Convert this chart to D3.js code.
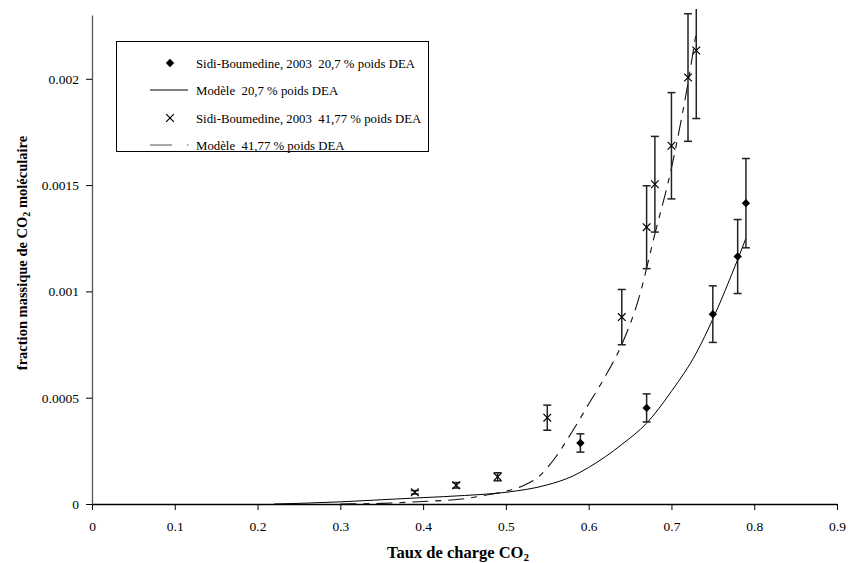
<!DOCTYPE html>
<html><head><meta charset="utf-8">
<script src="https://cdn.jsdelivr.net/npm/d3@7"></script>
<style>body{margin:0;background:#fff}svg{display:block}svg text{font-family:"Liberation Serif","Times New Roman",serif;white-space:pre}</style>
</head><body><div id="chart"></div>
<script>
// ---- data ----
const xTicks = [0,0.1,0.2,0.3,0.4,0.5,0.6,0.7,0.8,0.9];
const xTickLabels = ["0","0.1","0.2","0.3","0.4","0.5","0.6","0.7","0.8","0.9"];
const yTicks = [0,0.0005,0.001,0.0015,0.002];
const yTickLabels = ["0","0.0005","0.001","0.0015","0.002"];

const exp1X = [0.59,0.67,0.75,0.78,0.79];
const exp1Y = [0.000287,0.000452,0.000893,0.001164,0.001415];
const exp1Err = [0.000043,0.000066,0.000133,0.000174,0.00021];

const exp2X = [0.39,0.44,0.49,0.55,0.64,0.67,0.68,0.70,0.72,0.73];
const exp2Y = [0.000055,0.000088,0.000128,0.000406,0.000879,0.001302,0.001504,0.001685,0.002006,0.002133];
const exp2Err = [0.000008,0.000013,0.000019,0.000059,0.00013,0.000195,0.000225,0.00025,0.0003,0.00032];

const mod1X = [0.22,0.25,0.30,0.35,0.40,0.45,0.50,0.55,0.58,0.60,0.62,0.64,0.67,0.70,0.73,0.75,0.78,0.79];
const mod1Y = [0,0.000003,0.00001,0.00002,0.00003,0.00004,0.000055,0.00009,0.00013,0.000172,0.000222,0.00028,0.00038,0.00053,0.00071,0.00087,0.00115,0.00125];

const mod2X = [0.30,0.35,0.40,0.45,0.48,0.50,0.52,0.54,0.56,0.58,0.60,0.62,0.64,0.66,0.68,0.70,0.71,0.72,0.73];
const mod2Y = [0,0.000003,0.000012,0.000025,0.000045,0.00006,0.000085,0.00013,0.00022,0.00034,0.00047,0.0006,0.00075,0.00096,0.00127,0.00158,0.00177,0.00198,0.00222];

const legendLabels = ["Sidi-Boumedine, 2003  20,7 % poids DEA","Modèle  20,7 % poids DEA","Sidi-Boumedine, 2003  41,77 % poids DEA","Modèle  41,77 % poids DEA"];

// ---- chart ----
const W=848,H=563;
const FONT='"Liberation Serif","Times New Roman",serif';
const svg=d3.select("#chart").append("svg").attr("width",W).attr("height",H).attr("font-family",FONT);
const x=d3.scaleLinear().domain([0,0.9]).range([92,837]);
const y=d3.scaleLinear().domain([0,0.0023]).range([504,15]);

svg.append("defs").append("clipPath").attr("id","clip").append("rect")
  .attr("x",92).attr("y",9).attr("width",750).attr("height",500);

// axes
const xAxis=d3.axisBottom(x).tickValues(xTicks).tickFormat((d,i)=>xTickLabels[i]).tickSize(6).tickSizeOuter(0);
const gx=svg.append("g").attr("transform","translate(0,504)").call(xAxis).attr("font-family",FONT);
gx.select(".domain").attr("stroke","#000").attr("stroke-width",1.3);
gx.selectAll(".tick line").attr("stroke","#000");
gx.selectAll("text").attr("font-size",13.5).attr("fill","#000").attr("dy","1.3em");

const yAxis=d3.axisLeft(y).tickValues(yTicks).tickFormat((d,i)=>yTickLabels[i]).tickSize(6).tickSizeOuter(0);
const gy=svg.append("g").attr("transform","translate(92,0)").call(yAxis).attr("font-family",FONT);
gy.select(".domain").attr("stroke","#555").attr("stroke-width",1.3);
gy.selectAll(".tick line").attr("stroke","#000");
gy.selectAll("text").attr("font-size",13.5).attr("fill","#000").attr("dx","-0.3em");

// axis titles
const xt=svg.append("text").attr("x",458).attr("y",558).attr("text-anchor","middle")
  .attr("font-size",16.5).attr("font-weight","bold");
xt.append("tspan").text("Taux de charge CO");
xt.append("tspan").text("2").attr("font-size",11).attr("dy",3);

const yt=svg.append("text").attr("transform","translate(27,253) rotate(-90)").attr("text-anchor","middle")
  .attr("font-size",14.5).attr("font-weight","bold");
yt.append("tspan").text("fraction massique de CO");
yt.append("tspan").text("2").attr("font-size",10).attr("dy",3);
yt.append("tspan").text(" moléculaire").attr("dy",-3);

const plot=svg.append("g").attr("clip-path","url(#clip)");

// model curves
const line=d3.line().x(d=>x(d[0])).y(d=>y(d[1])).curve(d3.curveMonotoneX);
plot.append("path").datum(mod1X.map((v,i)=>[v,mod1Y[i]])).attr("d",line)
  .attr("fill","none").attr("stroke","#000").attr("stroke-width",1);
plot.append("path").datum(mod2X.map((v,i)=>[v,mod2Y[i]])).attr("d",line)
  .attr("fill","none").attr("stroke","#111").attr("stroke-width",1.1).attr("stroke-dasharray","16,7,6,7");

// error bars
function errBars(xs,ys,es){
  const g=plot.append("g").attr("stroke","#222").attr("stroke-width",1.5);
  xs.forEach((v,i)=>{
    const cx=x(v),t=y(ys[i]+es[i]),b=y(ys[i]-es[i]);
    g.append("line").attr("x1",cx).attr("x2",cx).attr("y1",t).attr("y2",b);
    g.append("line").attr("x1",cx-4).attr("x2",cx+4).attr("y1",t).attr("y2",t);
    g.append("line").attr("x1",cx-4).attr("x2",cx+4).attr("y1",b).attr("y2",b);
  });
}
errBars(exp1X,exp1Y,exp1Err);
errBars(exp2X,exp2Y,exp2Err);

// markers
const diamond=d3.symbol().type(d3.symbolDiamond2).size(45);
plot.selectAll(".dia").data(exp1X.map((v,i)=>[v,exp1Y[i]])).enter().append("path")
  .attr("d",diamond).attr("transform",d=>`translate(${x(d[0])},${y(d[1])})`).attr("fill","#000");
const cross=d3.symbol().type(d3.symbolX).size(40);
plot.selectAll(".crs").data(exp2X.map((v,i)=>[v,exp2Y[i]])).enter().append("path")
  .attr("d",cross).attr("transform",d=>`translate(${x(d[0])},${y(d[1])})`)
  .attr("fill","none").attr("stroke","#000").attr("stroke-width",1.2);

// legend
const lg=svg.append("g");
lg.append("rect").attr("x",116.5).attr("y",41.5).attr("width",312).attr("height",110)
  .attr("fill","#fff").attr("stroke","#000").attr("stroke-width",1);
const rowY=[63,90,118,145];
legendLabels.forEach((t,i)=>{
  lg.append("text").attr("x",196).attr("y",rowY[i]+4.5).attr("font-size",12.8).attr("xml:space","preserve").text(t);
});
lg.append("path").attr("d",diamond).attr("transform",`translate(170,${rowY[0]})`).attr("fill","#000");
lg.append("line").attr("x1",150).attr("x2",188).attr("y1",rowY[1]).attr("y2",rowY[1]).attr("stroke","#000");
lg.append("path").attr("d",cross).attr("transform",`translate(170,${rowY[2]})`).attr("fill","none").attr("stroke","#000").attr("stroke-width",1.2);
lg.append("line").attr("x1",150).attr("x2",190).attr("y1",rowY[3]).attr("y2",rowY[3]).attr("stroke","#555")
  .attr("stroke-width",1.1).attr("stroke-dasharray","22,15,1.5,15");
</script></body></html>
